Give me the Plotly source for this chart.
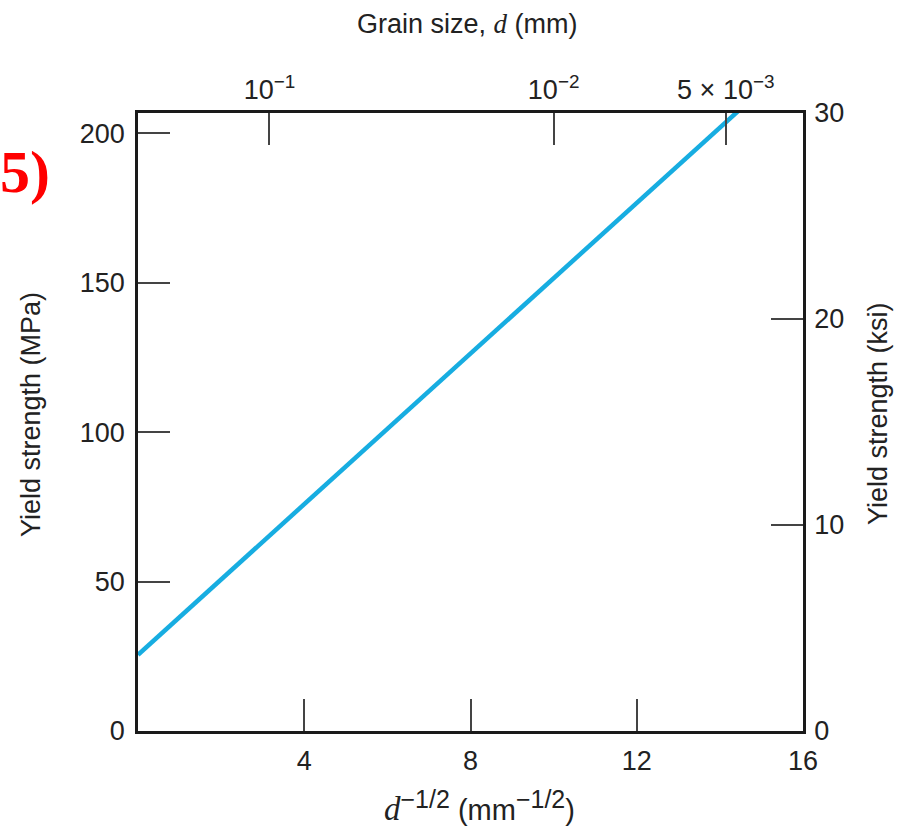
import plotly.graph_objects as go

# Data
d_inv_sqrt = [0, 4, 8, 12, 15]            # d^-1/2 (mm^-1/2)
yield_mpa = [25.5, 76, 126.5, 177, 214.5]  # yield strength (MPa)

bottom_ticks = [4, 8, 12, 16]
left_ticks = [0, 50, 100, 150, 200]
right_ticks = [0, 10, 20, 30]
top_tick_pos = [3.1623, 10.0, 14.142]   # d^-1/2 for d = 0.1, 0.01, 0.005 mm
top_tick_text = ["10<sup>\u22121</sup>", "10<sup>\u22122</sup>", "5 \u00d7 10<sup>\u22123</sup>"]

Y_MAX_MPA = 206.8
Y_MAX_KSI = 30

FONT = "Liberation Sans"
TXT = "#222222"

fig = go.Figure()
fig.add_trace(go.Scatter(
    x=d_inv_sqrt, y=yield_mpa, mode="lines",
    line=dict(color="#17ADE1", width=4.5),
    showlegend=False, hoverinfo="skip",
))
# invisible traces to activate secondary axes
fig.add_trace(go.Scatter(x=[None], y=[None], xaxis="x2", yaxis="y", showlegend=False))
fig.add_trace(go.Scatter(x=[None], y=[None], xaxis="x", yaxis="y2", showlegend=False))

axis_common = dict(
    showgrid=False, zeroline=False, showline=True, linecolor="#1a1a1a", linewidth=2.5,
    ticks="inside", ticklen=32, tickwidth=1.5, tickcolor="#444444",
    tickfont=dict(family=FONT, size=27, color=TXT),
)

fig.update_layout(
    width=897, height=827,
    margin=dict(l=138, r=94, t=113, b=96),
    paper_bgcolor="white", plot_bgcolor="white",
    xaxis=dict(range=[0, 16], tickvals=bottom_ticks, ticktext=[str(v) for v in bottom_ticks],
               ticklabelstandoff=4, **axis_common),
    xaxis2=dict(range=[0, 16], overlaying="x", side="top", tickvals=top_tick_pos,
                ticktext=top_tick_text, ticklabelstandoff=0, **axis_common),
    yaxis=dict(range=[0, Y_MAX_MPA], tickvals=left_ticks, ticktext=[str(v) for v in left_ticks],
               ticklabelstandoff=5, **axis_common),
    yaxis2=dict(range=[0, Y_MAX_KSI], overlaying="y", side="right", tickvals=right_ticks,
                ticktext=[str(v) for v in right_ticks], ticklabelstandoff=3, **axis_common),
)

serif_d = "<span style='font-family:Liberation Serif'><i>d</i></span>"
big_d = "<span style='font-family:Liberation Serif;font-size:33px'><i>d</i></span>"
sup = "<sup><span style='font-size:25px'>\u22121/2</span></sup>"
annos = [
    dict(text="Grain size, " + serif_d + " (mm)", x=(467 - 138) / 665, y=(731 - 24) / 618,
         textangle=0, font=dict(family=FONT, size=27, color=TXT)),
    dict(text=big_d + sup + " (mm" + sup + ")", x=(480 - 138) / 665,
         y=(731 - 806) / 618, textangle=0, font=dict(family=FONT, size=29, color=TXT)),
    dict(text="Yield strength (MPa)", x=(31 - 138) / 665, y=(731 - 415) / 618, textangle=-90,
         font=dict(family=FONT, size=27, color=TXT)),
    dict(text="Yield strength (ksi)", x=(878 - 138) / 665, y=(731 - 414) / 618, textangle=-90,
         font=dict(family=FONT, size=27, color=TXT)),
    dict(text="<b>5)</b>", x=(25 - 138) / 665, y=(731 - 172) / 618, textangle=0,
         font=dict(family="Liberation Serif", size=60, color="#FF0000")),
]
for a in annos:
    fig.add_annotation(xref="paper", yref="paper", showarrow=False,
                       xanchor="center", yanchor="middle", **a)

fig.write_html("out.html", config={"displayModeBar": False},
               post_script="document.body.style.margin='0';")
